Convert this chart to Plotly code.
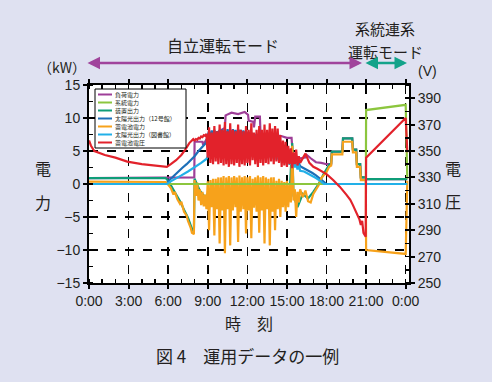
import plotly.graph_objects as go

# ---------------- data ----------------
series_names = ["負荷電力", "系統電力", "装置出力", "太陽光出力（12号館）",
                "蓄電池電力", "太陽光出力（図書館）", "蓄電池電圧"]
x_tickvals = [0, 3, 6, 9, 12, 15, 18, 21, 24]
x_ticktext = ["0:00", "3:00", "6:00", "9:00", "12:00", "15:00", "18:00", "21:00", "0:00"]
y_tickvals = [-15, -10, -5, 0, 5, 10, 15]
y2_tickvals = [250, 270, 290, 310, 330, 350, 370, 390]

t_mid = [8.0, 8.1, 8.2, 8.3, 8.4, 8.5, 8.6, 8.7, 8.8, 8.9,
         9.0, 9.1, 9.2, 9.3, 9.4, 9.5, 9.6, 9.7, 9.8, 9.9,
         10.0, 10.1, 10.2, 10.3, 10.4, 10.5, 10.6, 10.7, 10.8, 10.9,
         11.0, 11.1, 11.2, 11.3, 11.4, 11.5, 11.6, 11.7, 11.8, 11.9,
         12.0, 12.1, 12.2, 12.3, 12.4, 12.5, 12.6, 12.7, 12.8, 12.9,
         13.0, 13.1, 13.2, 13.3, 13.4, 13.5, 13.6, 13.7, 13.8, 13.9,
         14.0, 14.1, 14.2, 14.3, 14.4, 14.5, 14.6, 14.7, 14.8, 14.9,
         15.0, 15.1, 15.2, 15.3, 15.4, 15.5, 15.6, 15.7, 15.8, 15.9, 16.0]

# 蓄電池電力 (kW)
bat_t = ([0.0, 1.0, 2.0, 3.0, 4.0, 5.0, 5.8, 6.0, 6.2, 6.4, 6.5, 6.7, 6.9, 7.0, 7.2, 7.4,
          7.5, 7.7, 7.8, 7.95] + t_mid +
         [16.2, 16.4, 16.6, 16.8, 17.0, 17.2, 17.4, 17.6, 17.8, 18.0, 18.2, 18.35, 18.4,
          19.2, 19.25, 19.95, 20.0, 20.25, 20.3, 20.55, 20.6, 20.98, 21.0, 22.0, 23.0,
          24.0, 24.12])
bat_p = ([0.35, 0.35, 0.3, 0.35, 0.3, 0.35, 0.3, -0.1, -0.6, -1.6, -1.2, -2.3, -3.0, -2.7,
          -4.2, -4.8, -5.6, -6.6, -7.4, -7.6] +
         [0.6, -1.8, 0.2, -2.5, -0.8, -3.2, -1.2, -3.4, -1.6, -3.8,
          0.4, -7.0, 0.6, -3.5, 0.8, -7.8, 0.8, -3.8, 1.0, -9.0,
          1.0, -4.0, 1.2, -10.5, 1.0, -3.8, 1.2, -9.3, 1.0, -4.0,
          1.2, -3.5, 1.0, -8.8, 1.3, -4.2, 1.0, -3.8, 1.2, -7.5,
          1.0, -4.0, 1.2, -8.2, 0.8, -3.6, 1.0, -4.2, 1.3, -7.4,
          1.0, -4.0, 1.2, -9.0, 1.0, -3.8, 0.8, -9.3, 1.0, -4.2,
          1.0, -7.0, 0.5, -3.8, 0.8, -5.0, 0.5, -3.5, 0.3, -4.2,
          0.5, -3.5, 0.0, -2.8, 5.8, -2.5, -0.8, -5.0, -1.2, -2.8, -0.8] +
         [-2.0, -1.0, -2.6, -2.8, -1.5, -0.9, -0.2, 0.9, 1.4, 1.8, 2.6, 2.8, 4.5,
          4.5, 6.4, 6.4, 4.8, 4.8, 2.6, 2.6, 0.6, 0.6, -10.0, -10.2, -10.4,
          -10.6, 0.5])

# 装置出力 (kW)
dev_t = [0.0, 5.8, 6.0, 6.3, 6.6, 6.9, 7.2, 7.5, 7.8, 7.95, 8.0, 8.4, 8.8, 9.2, 9.6, 10.0,
         10.4, 10.8, 11.2, 11.6, 12.0, 12.4, 12.8, 13.2, 13.6, 14.0, 14.4, 14.8, 15.2, 15.4,
         15.5, 15.8, 16.2, 16.6, 17.0, 17.4, 17.8, 18.2, 18.35, 18.4, 19.2, 19.25, 19.95,
         20.0, 20.25, 20.3, 20.55, 20.6, 20.98, 21.0, 24.0, 24.12]
dev_p = [0.9, 0.9, 0.5, -0.5, -1.5, -2.6, -3.9, -5.1, -6.8, -7.2, 0.8, -1.0, -2.0, -1.0, -2.5,
         -1.5, -3.0, -1.0, -2.5, -1.5, -2.0, -1.0, -2.5, -1.0, -2.0, -1.5, -2.0, -1.0, -1.5,
         6.2, -1.8, -3.5, -1.5, -2.2, -1.2, 0.0, 1.6, 2.9, 3.1, 4.9, 4.9, 6.9, 6.9, 5.2,
         5.2, 3.0, 3.0, 1.0, 1.0, 0.75, 0.75, 0.75]

# 負荷電力 (kW)
load_t = [0.0, 5.8, 6.0, 7.98, 8.0, 8.6, 8.65, 9.0, 9.5, 10.0, 10.3, 10.35, 10.8, 11.3,
          11.8, 12.05, 12.1, 12.45, 12.5, 12.6, 12.95, 13.0, 13.5, 14.0, 14.5, 15.0, 15.35,
          15.45, 16.0, 16.4, 16.5, 16.8, 17.2, 17.6, 18.0, 18.35, 18.4, 19.2, 19.25, 19.95,
          20.0, 20.25, 20.3, 20.55, 20.6, 20.98, 21.0, 24.0, 24.12]
load_p = [0.9, 0.9, 1.0, 1.0, 6.4, 6.4, 5.9, 7.1, 7.6, 8.2, 8.5, 10.4, 10.8, 10.6, 10.9,
          10.5, 9.6, 9.4, 8.6, 10.2, 10.2, 7.5, 7.4, 7.3, 7.3, 7.0, 7.0, 4.0, 3.9, 4.0, 4.4,
          3.9, 3.3, 3.2, 3.0, 3.0, 4.9, 4.9, 6.9, 6.9, 5.2, 5.2, 3.0, 3.0, 1.0, 1.0, 0.75,
          0.75, 0.75]

# 系統電力 (kW)
grid_t = [0.0, 20.98, 21.0, 22.0, 23.0, 24.0, 24.12]
grid_p = [0.0, 0.0, 11.2, 11.5, 11.8, 12.0, 0.8]

t_pv = t_mid[10:]
# 太陽光出力（12号館）(kW)
pv1_t = [0.0, 5.8, 6.2, 6.5, 6.8, 7.1, 7.4, 7.7, 8.0, 8.3, 8.6, 8.9] + t_pv + \
        [16.3, 16.6, 16.9, 17.2, 17.5, 17.8, 18.0, 24.12]
pv1_p = [0.0, 0.0, 0.8, 1.4, 2.0, 2.5, 3.0, 3.6, 4.2, 5.0, 5.6, 6.3] + \
        [7.4, 8.0, 6.8, 8.1, 7.0, 8.2, 6.5, 8.0, 7.2, 8.2,
         6.8, 8.3, 7.0, 8.1, 6.6, 8.3, 7.2, 8.2, 6.9, 8.3,
         7.0, 8.2, 6.7, 8.3, 7.1, 8.2, 6.9, 8.1, 7.0, 8.0,
         6.8, 7.9, 6.6, 7.8, 6.9, 7.7, 6.4, 7.6, 6.5, 7.4,
         6.2, 7.1, 6.0, 6.9, 5.8, 6.6, 5.7, 6.4, 5.5, 6.3,
         5.4, 6.1, 5.2, 5.9, 5.0, 5.6, 4.8, 5.4, 4.6, 5.1,
         4.4, 4.8, 4.0, 4.5, 3.7, 4.1, 3.4, 3.6, 3.0, 3.2, 2.7] + \
        [2.4, 2.0, 1.7, 1.3, 0.8, 0.3, 0.0, 0.0]

# 太陽光出力（図書館）(kW)
pv2_t = [0.0, 5.9, 6.2, 6.6, 7.0, 7.5, 8.0, 8.5, 8.9] + t_pv + \
        [16.3, 16.6, 16.9, 17.2, 17.5, 17.8, 24.12]
pv2_p = [0.0, 0.0, 0.4, 0.8, 1.3, 1.9, 2.5, 3.2, 3.8] + \
        [4.2, 6.8, 4.5, 7.0, 5.0, 7.2, 4.6, 7.0, 5.2, 7.3,
         4.8, 7.4, 5.0, 7.2, 4.5, 7.4, 5.3, 7.3, 4.9, 7.4,
         5.1, 7.3, 4.7, 7.4, 5.2, 7.3, 4.8, 7.2, 5.0, 7.1,
         4.8, 7.0, 4.6, 6.9, 4.9, 6.8, 4.5, 6.7, 4.6, 6.5,
         4.4, 6.2, 4.2, 6.0, 4.1, 5.8, 4.0, 5.6, 3.9, 5.5,
         3.8, 5.3, 3.7, 5.1, 3.5, 4.9, 3.4, 4.7, 3.3, 4.5,
         3.1, 4.2, 2.9, 3.9, 2.7, 3.6, 2.5, 3.2, 2.2, 2.9, 2.0] + \
        [1.9, 1.6, 1.2, 0.9, 0.5, 0.0, 0.0]

# 蓄電池電圧 (V)
volt_t = ([0.0, 0.15, 0.4, 1.2, 2.0, 2.9, 4.0, 5.3, 5.9, 6.2, 6.6, 7.0, 7.3, 7.6, 7.9] + t_mid +
          [16.4, 16.7, 17.0, 17.3, 17.6, 18.0, 18.5, 19.0, 19.5, 19.8, 20.0, 20.2, 20.3,
           20.4, 20.5, 20.6, 20.7, 20.8, 20.9, 20.97, 21.0, 21.5, 22.0, 22.5, 23.0, 23.5,
           24.0, 24.12])
volt_v = ([358, 354, 350, 347, 345, 342, 340, 338.6, 338, 340, 343, 347, 351, 356, 359] +
          [358, 359, 358.5, 360, 359.5, 361, 360.5, 362, 361.5, 363,
           345, 368, 341, 364, 340, 369, 342, 365, 340, 370,
           341, 366, 339, 372, 340, 365, 338, 371, 340, 366,
           339, 365, 341, 370, 338, 366, 340, 365, 339, 369,
           341, 366, 339, 371, 343, 364, 340, 366, 338, 369,
           341, 366, 339, 370, 341, 366, 340, 371, 342, 367,
           340, 369, 342, 367, 341, 362, 338, 358, 339, 357,
           338, 354, 340, 352, 337, 349, 340, 351, 339, 346, 341] +
          [348, 341, 338, 336.5, 335, 332.5, 328, 323, 317, 313, 309, 305, 303,
           301, 298, 294, 297, 288, 286, 285, 345, 350, 355, 360, 365, 370,
           375, 349])

colors = {"負荷電力": "#9e3f98", "系統電力": "#8cc63e", "装置出力": "#0f9d78",
          "太陽光出力（12号館）": "#1d6fb8", "蓄電池電力": "#f7a21b",
          "太陽光出力（図書館）": "#22b0e8", "蓄電池電圧": "#e2222b"}

data = {"負荷電力": (load_t, load_p), "系統電力": (grid_t, grid_p),
        "装置出力": (dev_t, dev_p), "太陽光出力（12号館）": (pv1_t, pv1_p),
        "蓄電池電力": (bat_t, bat_p), "太陽光出力（図書館）": (pv2_t, pv2_p),
        "蓄電池電圧": (volt_t, volt_v)}

draw_order = ["負荷電力", "装置出力", "太陽光出力（12号館）", "蓄電池電力",
              "系統電力", "太陽光出力（図書館）", "蓄電池電圧"]

# ---------------- layout helpers ----------------
W, H = 492, 382
L, R, T, B = 89, 83, 85, 99
PW, PH = W - L - R, H - T - B
def px(v):
    return (v - L) / PW
def py(v):
    return (H - B - v) / PH

JP = "Noto Sans CJK JP"
LAT = "Liberation Sans"
TXT = "#231f20"
BG = "#dfe1f1"

fig = go.Figure()
for name in draw_order:
    t, v = data[name]
    fig.add_trace(go.Scatter(
        x=t, y=v, mode="lines", name=name, showlegend=False, hoverinfo="skip",
        line=dict(color=colors[name], width=2.2),
        yaxis="y2" if name == "蓄電池電圧" else "y"))

fig.update_layout(
    width=W, height=H, margin=dict(l=L, r=R, t=T, b=B, pad=0, autoexpand=False),
    paper_bgcolor=BG, plot_bgcolor="white",
    font=dict(family=LAT, size=14, color=TXT),
    showlegend=False,
    xaxis=dict(range=[0, 24.25], tickmode="array", tickvals=x_tickvals, ticktext=x_ticktext,
               showline=True, linecolor="black", linewidth=2, mirror="ticks",
               ticks="outside", ticklen=4, tickwidth=2, tickcolor="black",
               showgrid=True, gridcolor="black", griddash="dash", gridwidth=1.5,
               zeroline=False, tickfont=dict(family=LAT, size=14, color=TXT),
               automargin=False,
               minor=dict(tickmode="array", tickvals=list(range(0, 25)), ticks="inside",
                          ticklen=4, tickwidth=1.5, tickcolor="black", showgrid=False)),
    yaxis=dict(range=[-15, 15], tickmode="array", tickvals=y_tickvals,
               showline=True, linecolor="black", linewidth=2, mirror=True,
               ticks="outside", ticklen=4, tickwidth=2, tickcolor="black",
               showgrid=True, gridcolor="black", griddash="dash", gridwidth=1.5,
               zeroline=False, tickfont=dict(family=LAT, size=14, color=TXT),
               automargin=False,
               minor=dict(dtick=2.5, tick0=0, ticks="inside", ticklen=4, tickwidth=1.5,
                          tickcolor="black", showgrid=False)),
    yaxis2=dict(range=[250, 400], overlaying="y", side="right", tickmode="array",
                tickvals=y2_tickvals, showline=True, linecolor="black", linewidth=2,
                ticks="outside", ticklen=4, tickwidth=2, tickcolor="black",
                showgrid=False, zeroline=False, automargin=False,
                tickfont=dict(family=LAT, size=14, color=TXT),
                minor=dict(dtick=10, tick0=250, ticks="inside", ticklen=4, tickwidth=1.5,
                           tickcolor="black")),
)

ann = []
def text(s, x, y, size=15, fam=JP, xanchor="center"):
    ann.append(dict(text=s, x=px(x), y=py(y), xref="paper", yref="paper",
                    showarrow=False, xanchor=xanchor, yanchor="middle", borderpad=0,
                    font=dict(family=fam, size=size, color=TXT)))

text("自立運転モード", 223, 45, 16)
text("系統連系", 385, 29, 15)
text("運転モード", 385, 51, 15)
text("（kW）", 62, 67, 14)
text("(V)", 427, 71, 14, LAT)
text("電", 43, 168, 16)
text("力", 43, 202, 16)
text("電", 453, 168, 16)
text("圧", 453, 201, 16)
text("時　刻", 249, 323, 16)
text("図 4　運用データの一例", 247, 355, 17)

# mode arrows
ann.append(dict(text="", x=px(362), y=py(63), xref="paper", yref="paper",
                ax=86 - 362, ay=0, showarrow=True, arrowside="end+start",
                arrowhead=2, arrowsize=1, arrowwidth=2.5, arrowcolor="#a0449c",
                standoff=0, startstandoff=0))
ann.append(dict(text="", x=px(407), y=py(63), xref="paper", yref="paper",
                ax=364 - 407, ay=0, showarrow=True, arrowside="end+start",
                arrowhead=2, arrowsize=1, arrowwidth=2.5, arrowcolor="#13a38a",
                standoff=0, startstandoff=0))

# legend box (drawn with shapes + text)
shapes = [dict(type="rect", xref="paper", yref="paper", x0=px(95), x1=px(186),
               y0=py(148), y1=py(89), fillcolor="white",
               line=dict(color="black", width=1), layer="above")]
leg_y0, leg_dy = 94.5, 8.0
for i, name in enumerate(series_names):
    yy = leg_y0 + i * leg_dy
    shapes.append(dict(type="line", xref="paper", yref="paper", x0=px(98), x1=px(112),
                       y0=py(yy), y1=py(yy), line=dict(color=colors[name], width=2),
                       layer="above"))
    ann.append(dict(text=name, x=px(114), y=py(yy), xref="paper", yref="paper",
                    showarrow=False, xanchor="left", yanchor="middle", borderpad=0,
                    font=dict(family=JP, size=6, color=TXT)))

fig.update_layout(annotations=ann, shapes=shapes)
fig.write_html("out.html", config={"displayModeBar": False, "staticPlot": True},
               post_script="document.body.style.margin='0';"
                           "document.body.style.background='" + BG + "';")
